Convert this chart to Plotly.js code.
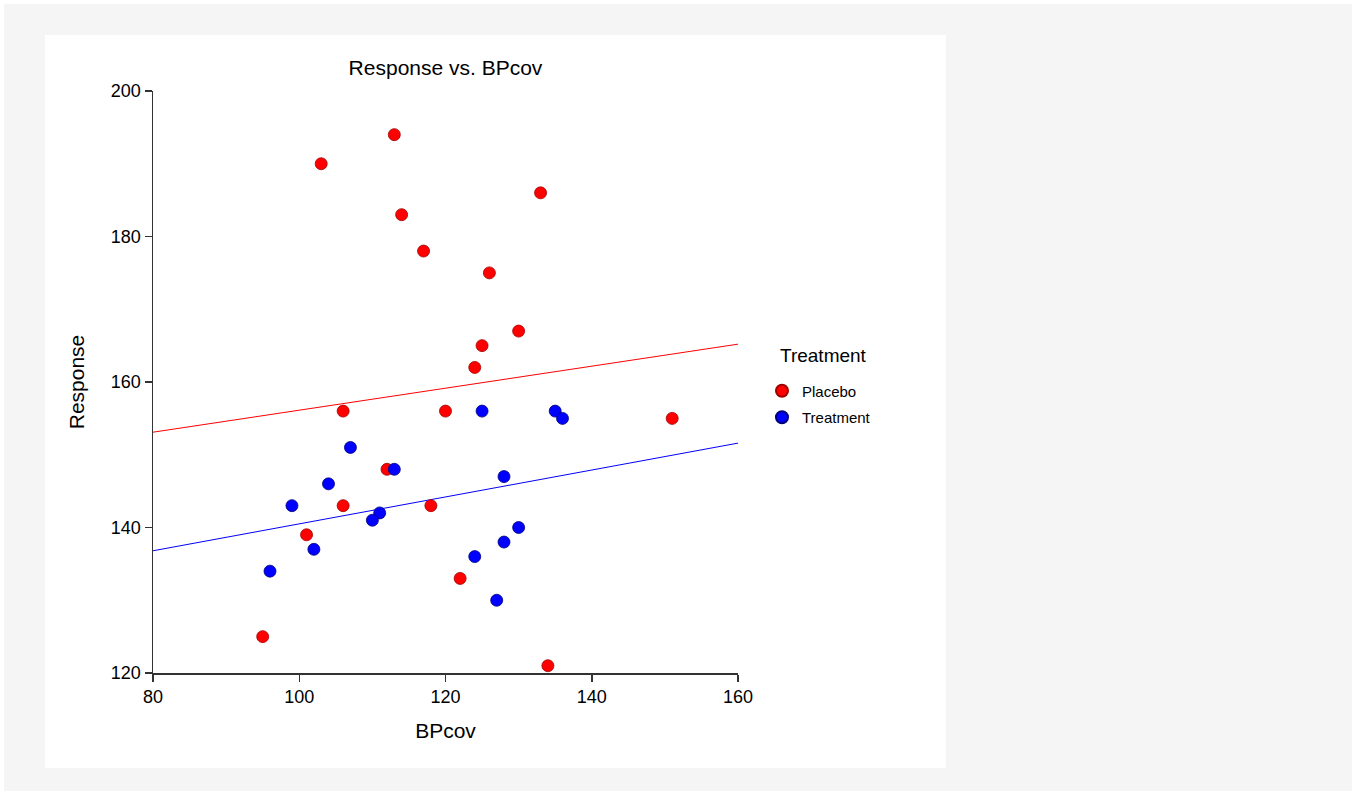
<!DOCTYPE html>
<html>
<head>
<meta charset="utf-8">
<script src="https://cdn.plot.ly/plotly-3.0.1.min.js"></script>
<style>
  html, body { margin: 0; padding: 0; background: #ffffff; width: 1356px; height: 795px; overflow: hidden; }
  #outer { position: absolute; left: 4px; top: 4px; width: 1348px; height: 787px; background: #f5f5f5; }
  #chart { position: absolute; left: 45px; top: 35px; width: 901px; height: 733px; background: #ffffff; }
</style>
</head>
<body>
<div id="outer"></div>
<div id="chart"></div>
<script>
// Data
const placeboBP = [113, 103, 114, 117, 133, 126, 130, 125, 124, 106, 120, 112, 106, 118, 101, 95, 122, 151, 134];
const placeboResp = [194, 190, 183, 178, 186, 175, 167, 165, 162, 156, 156, 148, 143, 143, 139, 125, 133, 155, 121];
const treatBP = [107, 113, 104, 99, 111, 110, 102, 96, 125, 135, 136, 128, 130, 128, 124, 127];
const treatResp = [151, 148, 146, 143, 142, 141, 137, 134, 156, 156, 155, 147, 140, 138, 136, 130];
const fitX = [80, 160];
const placeboFit = [153.1, 165.2];
const treatFit = [136.8, 151.6];
const groupNames = ["Placebo", "Treatment"];
const legendTitle = "Treatment";
const xTicks = [80, 100, 120, 140, 160];
const yTicks = [120, 140, 160, 180, 200];

const FONT = "Liberation Sans, Arial, sans-serif";

const traces = [
  {
    x: fitX, y: placeboFit, mode: "lines", type: "scatter",
    line: { color: "#ff0000", width: 1 }, showlegend: false, hoverinfo: "skip"
  },
  {
    x: fitX, y: treatFit, mode: "lines", type: "scatter",
    line: { color: "#0000ff", width: 1 }, showlegend: false, hoverinfo: "skip"
  },
  {
    x: placeboBP, y: placeboResp, mode: "markers", type: "scatter", name: groupNames[0], legendgroup: "g1",
    marker: { color: "#ff0000", size: 12, line: { color: "#a00000", width: 0.8 } }
  },
  {
    x: treatBP, y: treatResp, mode: "markers", type: "scatter", name: groupNames[1], legendgroup: "g2",
    marker: { color: "#0000ff", size: 12, line: { color: "#00007a", width: 0.8 } }
  }
];

const layout = {
  width: 901, height: 733,
  paper_bgcolor: "#ffffff", plot_bgcolor: "#ffffff",
  margin: { l: 108, r: 208, t: 55.5, b: 95, pad: 0 },
  font: { family: FONT, color: "#000000", size: 16 },
  title: {
    text: "Response vs. BPcov",
    font: { family: FONT, size: 21, color: "#000000" },
    x: 0.5, xref: "paper", xanchor: "center",
    y: 1 - 33 / 733, yref: "container", yanchor: "middle"
  },
  xaxis: {
    range: [80, 160], tickvals: xTicks, ticktext: xTicks.map(String),
    showgrid: false, zeroline: false, showline: true, linecolor: "#333333", linewidth: 1.5,
    ticks: "outside", ticklen: 7, tickcolor: "#333333", tickwidth: 1.5,
    tickfont: { family: FONT, size: 18, color: "#000000" },
    title: { text: "BPcov", font: { family: FONT, size: 21, color: "#000000" }, standoff: 17 }
  },
  yaxis: {
    range: [120, 200], tickvals: yTicks, ticktext: yTicks.map(String),
    showgrid: false, zeroline: false, showline: true, linecolor: "#333333", linewidth: 1.5,
    ticks: "outside", ticklen: 7, tickcolor: "#333333", tickwidth: 1.5,
    tickfont: { family: FONT, size: 18, color: "#000000" },
    title: { text: "Response", font: { family: FONT, size: 21, color: "#000000" }, standoff: 20 }
  },
  legend: {
    x: 1.041, xanchor: "left", y: 0.513, yanchor: "top",
    bgcolor: "rgba(0,0,0,0)",
    font: { family: FONT, size: 15, color: "#000000" },
    itemsizing: "constant", tracegroupgap: 4
  },
  annotations: [
    {
      text: legendTitle, xref: "paper", yref: "paper", x: 1.147, y: 0.546,
      xanchor: "center", yanchor: "middle", showarrow: false,
      font: { family: FONT, size: 19, color: "#000000" }
    }
  ],
  showlegend: true
};

Plotly.newPlot("chart", traces, layout, { displayModeBar: false, staticPlot: true });
</script>
</body>
</html>
